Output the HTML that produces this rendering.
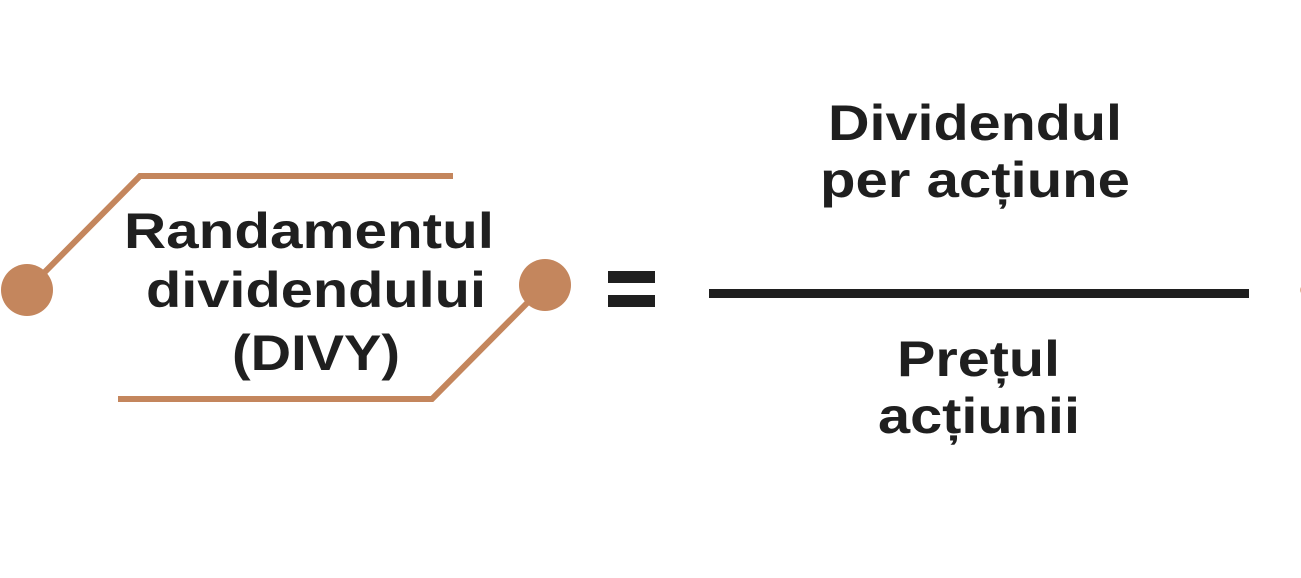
<!DOCTYPE html>
<html><head><meta charset="utf-8"><style>
html,body{margin:0;padding:0;background:#fff;width:1301px;height:578px;overflow:hidden}
text{font-family:"Liberation Sans",sans-serif;font-weight:bold;fill:#1f1f1f;font-size:50px}
</style></head><body>
<svg width="1301" height="578" viewBox="0 0 1301 578" xmlns="http://www.w3.org/2000/svg">
<rect width="1301" height="578" fill="#fff"/>
<g stroke="#C4865D" stroke-width="6" fill="none">
<polyline points="453,176 140,176 27,290"/>
<polyline points="545,285 432,399 118,399"/>
</g>
<circle cx="27" cy="290" r="26" fill="#C4865D"/>
<circle cx="545" cy="285" r="26" fill="#C4865D"/>
<circle cx="1305" cy="290" r="5" fill="#E0B090"/>
<rect x="608" y="271" width="47" height="12" fill="#1f1f1f"/>
<rect x="608" y="295" width="47" height="12" fill="#1f1f1f"/>
<rect x="709" y="289" width="540" height="9" fill="#1f1f1f"/>
<text x="124" y="248" textLength="370" lengthAdjust="spacingAndGlyphs">Randamentul</text>
<text x="146" y="307" textLength="340" lengthAdjust="spacingAndGlyphs">dividendului</text>
<text x="232" y="370" textLength="168" lengthAdjust="spacingAndGlyphs">(DIVY)</text>
<text x="828" y="140" textLength="294" lengthAdjust="spacingAndGlyphs">Dividendul</text>
<text x="820" y="197" textLength="310" lengthAdjust="spacingAndGlyphs">per acțiune</text>
<text x="897" y="376" textLength="163" lengthAdjust="spacingAndGlyphs">Prețul</text>
<text x="878" y="433" textLength="202" lengthAdjust="spacingAndGlyphs">acțiunii</text>
</svg>
</body></html>
